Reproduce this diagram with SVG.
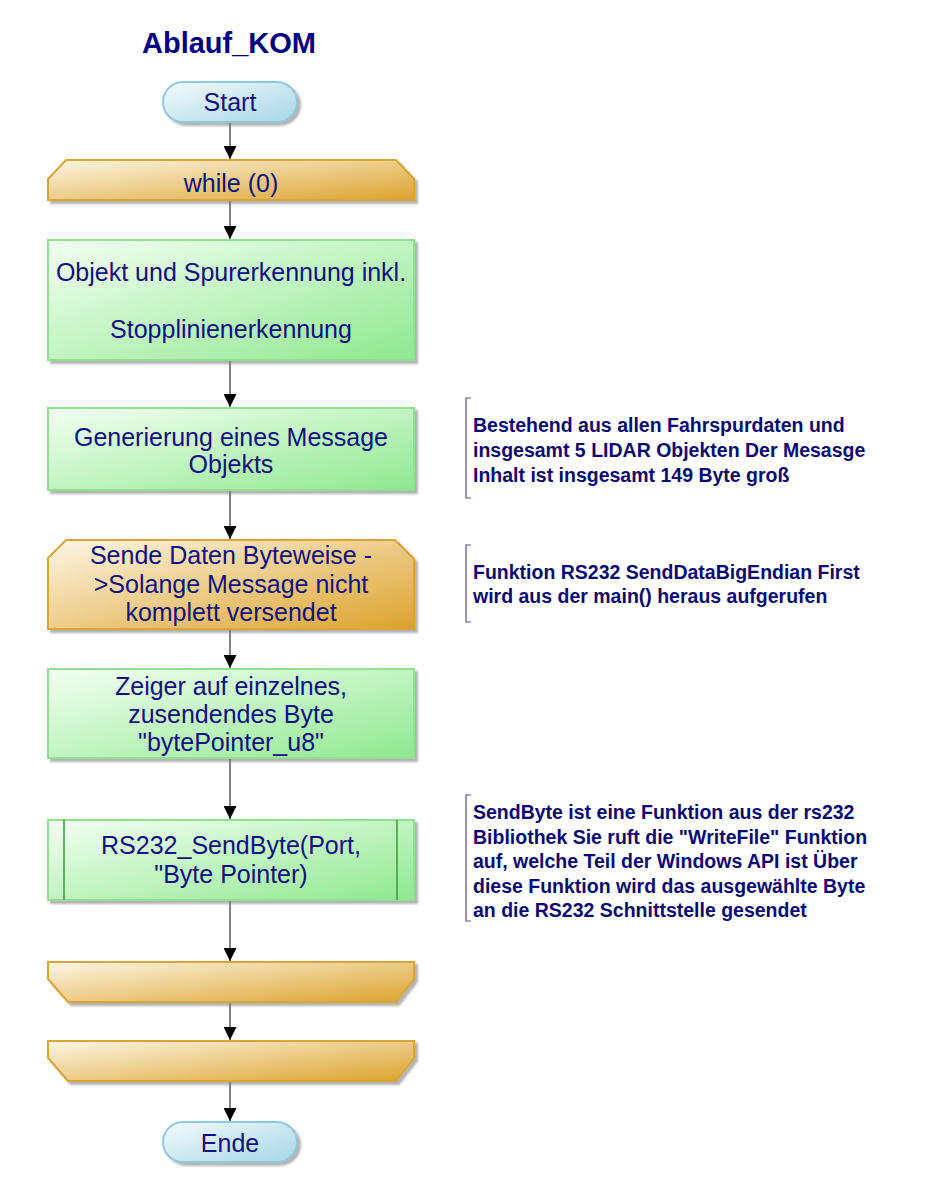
<svg xmlns="http://www.w3.org/2000/svg" width="950" height="1200" viewBox="0 0 950 1200">
<defs>
<linearGradient id="gGreen" x1="0" y1="0" x2="1" y2="1"><stop offset="0" stop-color="#f4fff4"/><stop offset="1" stop-color="#8fe88f"/></linearGradient>
<linearGradient id="gGold" x1="0" y1="0" x2="1" y2="1"><stop offset="0" stop-color="#fdf6e4"/><stop offset="1" stop-color="#dca22c"/></linearGradient>
<linearGradient id="gBlue" x1="0" y1="0" x2="1" y2="1"><stop offset="0" stop-color="#f4fbfd"/><stop offset="1" stop-color="#a6d6e6"/></linearGradient>
<filter id="sh" x="-5%" y="-5%" width="115%" height="125%"><feDropShadow dx="3" dy="3" stdDeviation="1" flood-color="#808080" flood-opacity="0.6"/></filter>
<marker id="arr" viewBox="0 0 10 10" refX="10" refY="5" markerWidth="13" markerHeight="13" markerUnits="userSpaceOnUse" orient="auto"><path d="M0,0 L10,5 L0,10 Z" fill="#000"/></marker>
<style>
.proc{fill:url(#gGreen);stroke:#8fe08f;stroke-width:2;filter:url(#sh)}
.loop{fill:url(#gGold);stroke:#d9a535;stroke-width:2;filter:url(#sh)}
.term{fill:url(#gBlue);stroke:#90c8dc;stroke-width:2;filter:url(#sh)}
.t{font-family:"Liberation Sans",Arial,sans-serif;font-size:25px;fill:#101080;text-anchor:middle}
.n{font-family:"Liberation Sans",Arial,sans-serif;font-size:19.5px;font-weight:bold;fill:#0a0a70}
.br{fill:none;stroke:#5050a0;stroke-width:1.2}
.c{stroke:#404040;stroke-width:1.3;fill:none;marker-end:url(#arr)}
</style>
</defs>
<rect width="950" height="1200" fill="#fff"/>
<text x="229" y="53" font-family="Liberation Sans,Arial,sans-serif" font-size="29" font-weight="bold" fill="#000080" text-anchor="middle">Ablauf_KOM</text>

<g id="connectors">
<line class="c" x1="230" y1="122" x2="230" y2="159"/>
<line class="c" x1="230" y1="201" x2="230" y2="239"/>
<line class="c" x1="230" y1="361" x2="230" y2="407"/>
<line class="c" x1="230" y1="491" x2="230" y2="539"/>
<line class="c" x1="230" y1="630" x2="230" y2="668"/>
<line class="c" x1="230" y1="759" x2="230" y2="819"/>
<line class="c" x1="230" y1="901" x2="230" y2="961"/>
<line class="c" x1="230" y1="1003" x2="230" y2="1040"/>
<line class="c" x1="230" y1="1082" x2="230" y2="1121"/>
</g>

<g id="start">
<rect class="term" x="163" y="82" width="134" height="40" rx="20"/>
<text class="t" x="230" y="111">Start</text>
</g>

<g id="while">
<polygon class="loop" points="48,179 66,160 396,160 414,179 414,200 48,200"/>
<text class="t" x="231" y="192">while (0)</text>
</g>

<g id="objekt">
<rect class="proc" x="48" y="240" width="366" height="120"/>
<text class="t" x="231" y="281">Objekt und Spurerkennung inkl.</text>
<text class="t" x="231" y="338">Stopplinienerkennung</text>
</g>

<g id="generierung">
<rect class="proc" x="48" y="408" width="366" height="82"/>
<text class="t" x="231" y="446">Generierung eines Message</text>
<text class="t" x="231" y="473">Objekts</text>
</g>

<g id="sende">
<polygon class="loop" points="48,558 66,540 395,540 414,559 414,629 48,629"/>
<text class="t" x="231" y="564">Sende Daten Byteweise -</text>
<text class="t" x="231" y="593">&gt;Solange Message nicht</text>
<text class="t" x="231" y="621">komplett versendet</text>
</g>

<g id="zeiger">
<rect class="proc" x="48" y="669" width="366" height="89"/>
<text class="t" x="231" y="695">Zeiger auf einzelnes,</text>
<text class="t" x="231" y="723">zusendendes Byte</text>
<text class="t" x="231" y="751">"bytePointer_u8"</text>
</g>

<g id="sendbyte">
<rect class="proc" x="48" y="820" width="366" height="80"/>
<line x1="64" y1="820" x2="64" y2="900" stroke="#3a9a3a" stroke-width="1.5"/>
<line x1="397" y1="820" x2="397" y2="900" stroke="#3a9a3a" stroke-width="1.5"/>
<text class="t" x="231" y="854">RS232_SendByte(Port,</text>
<text class="t" x="231" y="883">"Byte Pointer)</text>
</g>

<g id="loopend1">
<polygon class="loop" points="48,962 414,962 414,979 396,1002 68,1002 48,979"/>
</g>

<g id="loopend2">
<polygon class="loop" points="48,1041 414,1041 414,1058 396,1081 68,1081 48,1058"/>
</g>

<g id="ende">
<rect class="term" x="163" y="1122" width="134" height="40" rx="20"/>
<text class="t" x="230" y="1152">Ende</text>
</g>

<g id="note1">
<path class="br" d="M471,398 H466 V498 H471"/>
<text class="n" x="473" y="432">Bestehend aus allen Fahrspurdaten und</text>
<text class="n" x="473" y="457">insgesamt 5 LIDAR Objekten Der Mesasge</text>
<text class="n" x="473" y="482">Inhalt ist insgesamt 149 Byte groß</text>
</g>

<g id="note2">
<path class="br" d="M471,545 H466 V622 H471"/>
<text class="n" x="473" y="579">Funktion RS232 SendDataBigEndian First</text>
<text class="n" x="473" y="603">wird aus der main() heraus aufgerufen</text>
</g>

<g id="note3">
<path class="br" d="M471,795 H466 V921 H471"/>
<text class="n" x="473" y="819">SendByte ist eine Funktion aus der rs232</text>
<text class="n" x="473" y="844">Bibliothek Sie ruft die "WriteFile" Funktion</text>
<text class="n" x="473" y="868">auf, welche Teil der Windows API ist Über</text>
<text class="n" x="473" y="893">diese Funktion wird das ausgewählte Byte</text>
<text class="n" x="473" y="917">an die RS232 Schnittstelle gesendet</text>
</g>
</svg>
